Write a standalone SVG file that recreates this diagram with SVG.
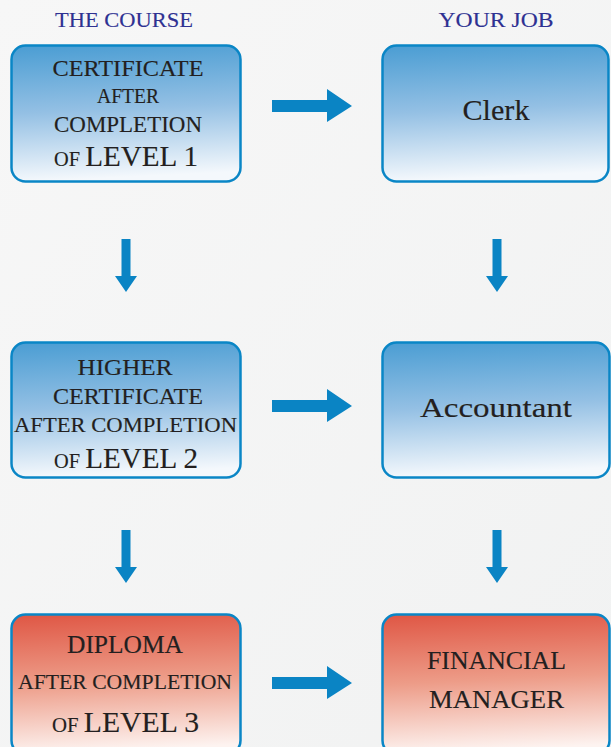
<svg xmlns="http://www.w3.org/2000/svg" width="611" height="747" viewBox="0 0 611 747">
<defs>
<linearGradient id="bg" x1="0" y1="0" x2="1" y2="1">
<stop offset="0" stop-color="#f7f7f7"/><stop offset="1" stop-color="#f1f2f2"/>
</linearGradient>
<linearGradient id="blue" x1="0" y1="0" x2="0.08" y2="1">
<stop offset="0" stop-color="#4a9dd3"/><stop offset="0.5" stop-color="#94c0e4"/><stop offset="1" stop-color="#f4f8fc"/>
</linearGradient>
<linearGradient id="red" x1="0" y1="0" x2="0.08" y2="1">
<stop offset="0" stop-color="#df5644"/><stop offset="0.5" stop-color="#ed9c88"/><stop offset="1" stop-color="#fdf3f0"/>
</linearGradient>
</defs>
<style>
.box{stroke:#0a86c6;stroke-width:2.5}
.b{fill:url(#blue)}
.r{fill:url(#red)}
.t{font-family:"Liberation Serif","Times New Roman",serif;fill:#231f20;stroke:#231f20;stroke-width:0.15;text-anchor:middle}
.h{font-family:"Liberation Serif","Times New Roman",serif;fill:#2e3192;stroke:#2e3192;stroke-width:0.15;text-anchor:middle;font-size:22px}
.arr{fill:#0a84c4}
</style>
<rect width="611" height="747" fill="url(#bg)"/>
<text class="h" x="124" y="27" textLength="138" lengthAdjust="spacingAndGlyphs">THE COURSE</text>
<text class="h" x="496" y="27" textLength="115" lengthAdjust="spacingAndGlyphs">YOUR JOB</text>

<g id="course1">
<rect class="box b" x="11.5" y="45.5" width="229" height="136" rx="14"/>
<text class="t" x="128" y="76" font-size="24" textLength="151" lengthAdjust="spacingAndGlyphs">CERTIFICATE</text>
<text class="t" x="128" y="103" font-size="20" textLength="62" lengthAdjust="spacingAndGlyphs">AFTER</text>
<text class="t" x="128" y="132" font-size="23" textLength="148" lengthAdjust="spacingAndGlyphs">COMPLETION</text>
<text class="t" x="126" y="166" textLength="144" lengthAdjust="spacingAndGlyphs"><tspan font-size="21">OF </tspan><tspan font-size="30">LEVEL 1</tspan></text>
</g>
<g id="job1">
<rect class="box b" x="382.5" y="45.5" width="226" height="136" rx="14"/>
<text class="t" x="496" y="120" font-size="29" textLength="67" lengthAdjust="spacingAndGlyphs">Clerk</text>
</g>

<g id="course2">
<rect class="box b" x="11.5" y="342.5" width="229" height="135" rx="14"/>
<text class="t" x="125" y="375" font-size="24" textLength="95" lengthAdjust="spacingAndGlyphs">HIGHER</text>
<text class="t" x="128" y="404" font-size="24" textLength="150" lengthAdjust="spacingAndGlyphs">CERTIFICATE</text>
<text class="t" x="125.5" y="432" font-size="22" textLength="223" lengthAdjust="spacingAndGlyphs">AFTER COMPLETION</text>
<text class="t" x="126" y="468" textLength="144" lengthAdjust="spacingAndGlyphs"><tspan font-size="21">OF </tspan><tspan font-size="30">LEVEL 2</tspan></text>
</g>
<g id="job2">
<rect class="box b" x="382.5" y="342.5" width="227" height="135" rx="14"/>
<text class="t" x="496" y="417" font-size="28" textLength="152" lengthAdjust="spacingAndGlyphs">Accountant</text>
</g>

<g id="course3">
<rect class="box r" x="11.5" y="614.5" width="229" height="140" rx="14"/>
<text class="t" x="125" y="653" font-size="25" textLength="116" lengthAdjust="spacingAndGlyphs">DIPLOMA</text>
<text class="t" x="125" y="689" font-size="22" textLength="214" lengthAdjust="spacingAndGlyphs">AFTER COMPLETION</text>
<text class="t" x="125.5" y="732" textLength="147" lengthAdjust="spacingAndGlyphs"><tspan font-size="21">OF </tspan><tspan font-size="30">LEVEL 3</tspan></text>
</g>
<g id="job3">
<rect class="box r" x="382.5" y="614.5" width="227" height="140" rx="14"/>
<text class="t" x="496.5" y="669" font-size="26" textLength="139" lengthAdjust="spacingAndGlyphs">FINANCIAL</text>
<text class="t" x="496.5" y="708" font-size="26" textLength="135" lengthAdjust="spacingAndGlyphs">MANAGER</text>
</g>

<g id="connectors" class="arr">
<polygon points="272,100 327,100 327,89 352,106 327,122 327,112 272,112"/>
<polygon points="272,400 327,400 327,389 352,406 327,422 327,412 272,412"/>
<polygon points="272,677 327,677 327,666 352,683 327,699 327,689 272,689"/>
<polygon points="121.5,239 130.5,239 130.5,276 137,276 126,292 115,276 121.5,276"/>
<polygon points="492.5,239 501.5,239 501.5,276 508,276 497,292 486,276 492.5,276"/>
<polygon points="121.5,530 130.5,530 130.5,567 137,567 126,583 115,567 121.5,567"/>
<polygon points="492.5,530 501.5,530 501.5,567 508,567 497,583 486,567 492.5,567"/>
</g>
</svg>
